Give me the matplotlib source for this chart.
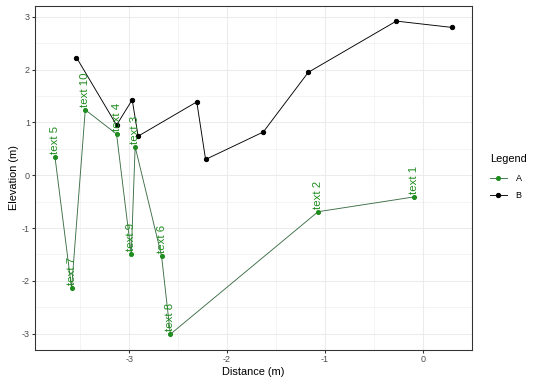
import matplotlib
matplotlib.use("Agg")
import matplotlib.pyplot as plt
from matplotlib.lines import Line2D
from matplotlib.ticker import MultipleLocator

plt.rcParams['font.family'] = ['Liberation Sans', 'DejaVu Sans']
plt.rcParams['axes.unicode_minus'] = False

# Series A (green, labelled)
a_x = [-3.76, -3.59, -3.45, -3.13, -2.98, -2.94, -2.67, -2.58, -1.07, -0.09]
a_y = [0.35, -2.14, 1.24, 0.78, -1.49, 0.54, -1.53, -3.01, -0.69, -0.41]
a_labels = ["text 5", "text 7", "text 10", "text 4", "text 9",
            "text 3", "text 6", "text 8", "text 2", "text 1"]

# Series B (black)
b_x = [-3.54, -3.13, -2.97, -2.91, -2.31, -2.22, -1.63, -1.17, -0.27, 0.30]
b_y = [2.23, 0.95, 1.43, 0.74, 1.39, 0.30, 0.82, 1.95, 2.92, 2.80]

x_ticks = [-3, -2, -1, 0]
y_ticks = [-3, -2, -1, 0, 1, 2, 3]

green_pt = '#1E8C1E'
green_ln = '#3C6E46'
green_tx = '#1E8C1E'

fig = plt.figure(figsize=(540/72, 386/72), dpi=72)
ax = fig.add_axes([35/540, 1-350/386, (472-35)/540, (350-6)/386])

ax.set_xlim(-3.964, 0.504)
ax.set_ylim(-3.309, 3.206)

ax.set_xticks(x_ticks)
ax.set_yticks(y_ticks)
ax.xaxis.set_minor_locator(MultipleLocator(0.5))
ax.yaxis.set_minor_locator(MultipleLocator(0.5))
ax.grid(which='major', color='#EBEBEB', linewidth=1.07, zorder=0)
ax.grid(which='minor', color='#EBEBEB', linewidth=0.53, zorder=0)
ax.set_axisbelow(True)
ax.tick_params(which='minor', length=0)
ax.tick_params(which='major', length=2.75, width=1.07, color='#333333',
               labelsize=9, labelcolor='#4D4D4D', pad=2.2)
for s in ax.spines.values():
    s.set_color('#333333')
    s.set_linewidth(1.07)

ax.plot(b_x, b_y, color='black', linewidth=0.9, marker='o', markersize=4.3, zorder=3)
ax.plot(a_x, a_y, color=green_ln, linewidth=0.9, zorder=3)
ax.plot(a_x, a_y, linestyle='none', marker='o', markersize=4.0,
        color=green_pt, zorder=4)

for x, y, t in zip(a_x, a_y, a_labels):
    ax.annotate(t, (x, y), xytext=(0, 3), textcoords='offset points',
                rotation=90, ha='center', va='bottom', fontsize=11.4,
                color=green_tx, zorder=5)

ax.set_xlabel('Distance (m)', fontsize=11, labelpad=3)
ax.set_ylabel('Elevation (m)', fontsize=11, labelpad=3)

handles = [Line2D([], [], color=green_ln, linewidth=0.9, marker='o',
                  markersize=4.0, markerfacecolor=green_pt, markeredgecolor=green_pt),
           Line2D([], [], color='black', linewidth=0.9, marker='o', markersize=4.3)]
leg = fig.legend(handles, ['A', 'B'], title='Legend', loc='center left',
                 bbox_to_anchor=(484/540, 1-177/386), frameon=False,
                 fontsize=9, title_fontsize=11, handlelength=1.8,
                 handletextpad=1.0, labelspacing=0.95, borderpad=0.2)
leg._legend_box.align = 'left'
leg._legend_box.sep = 10

fig.savefig('out.png', dpi=72)
